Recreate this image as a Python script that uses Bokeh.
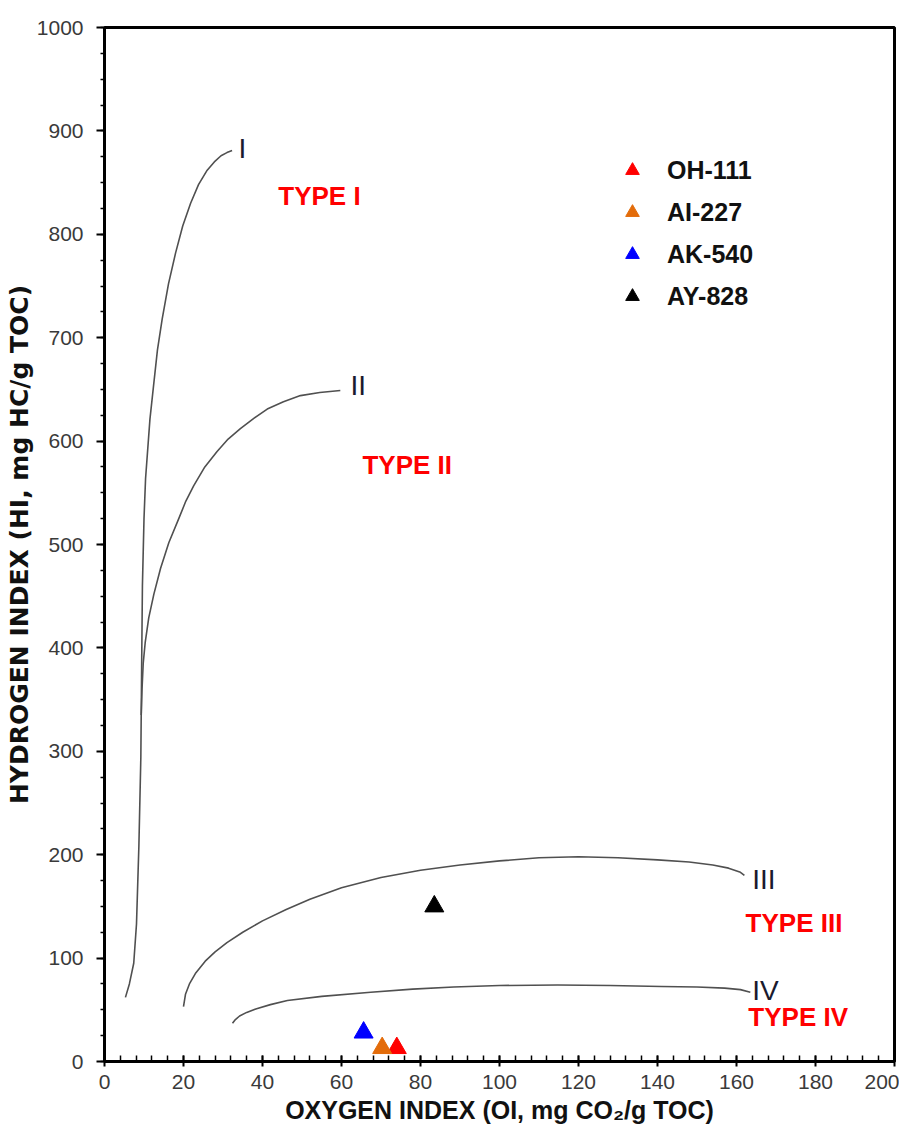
from bokeh.plotting import figure
from bokeh.models import (Range1d, SingleIntervalTicker, Label, Legend, LegendItem)
from bokeh.embed import file_html
from bokeh.resources import INLINE

# ---- data ----
curve_I_x = [5.3, 6.3, 7.4, 8.1, 8.7, 9.2, 9.4, 9.6, 10.0, 10.4, 11.5, 12.4, 13.4, 14.6, 16.2, 18.0,
             19.8, 21.8, 23.8, 26.0, 27.8, 29.5, 31.0, 32.3]
curve_I_y = [62, 75, 95, 133, 208, 294, 380, 460, 525, 564, 621, 653, 688, 718, 752, 782,
             808, 830, 848, 862, 870, 876, 879, 881]

curve_II_x = [9.3, 9.5, 9.8, 10.3, 11.2, 12.5, 14.2, 16.3, 18.8, 20.6, 22.6, 25.4, 28.5, 31.3,
              34.4, 37.8, 41.2, 45.3, 49.6, 54.5, 59.7]
curve_II_y = [335, 360, 385, 405, 429, 452, 477, 502, 525, 542, 557, 575, 590, 602,
              612, 622, 631, 638, 644, 647, 649]

curve_III_x = [20.0, 20.5, 21.5, 23.0, 25.5, 28.0, 31.0, 35.0, 40.0, 46.0, 52.0, 60.0, 70.0,
               80.0, 90.0, 100.0, 110.0, 120.0, 130.0, 140.0, 148.0, 154.0, 158.0, 161.0, 162.0]
curve_III_y = [53, 65, 75, 85, 97, 106, 115, 125, 136, 147, 157, 168, 178,
               185, 190, 194, 197, 198, 197, 195, 193, 190, 187, 183, 180]

curve_IV_x = [32.4, 33.0, 34.2, 36.0, 38.5, 42.0, 46.3, 55.0, 67.4, 78.0, 88.4, 100.0, 114.7,
              128.0, 141.0, 150.0, 157.0, 161.0, 163.5]
curve_IV_y = [37, 40, 44, 47.5, 51, 55, 59, 63, 67, 70, 72, 73.5, 74,
              73.5, 72.5, 72, 71, 69.5, 67]

samples = ["OH-111", "AI-227", "AK-540", "AY-828"]
sample_oi = [74.0, 70.3, 65.6, 83.5]
sample_hi = [13, 13, 28, 150]
sample_colors = ["#ff0000", "#e36c0a", "#0000ff", "#000000"]

curve_names = ["I", "II", "III", "IV"]
type_names = ["TYPE I", "TYPE II", "TYPE III", "TYPE IV"]

FONT = "Liberation Sans"

p = figure(width=899, height=1126, output_backend="svg", toolbar_location=None,
           x_range=Range1d(0, 200), y_range=Range1d(0, 1000),
           min_border_left=104, min_border_right=5, min_border_top=27, min_border_bottom=61)
p.xgrid.visible = False
p.ygrid.visible = False
p.outline_line_color = "black"
p.outline_line_width = 3
p.background_fill_color = "white"

# axes
p.xaxis.ticker = SingleIntervalTicker(interval=20, num_minor_ticks=5)
p.yaxis.ticker = SingleIntervalTicker(interval=100, num_minor_ticks=4)
for ax in (p.xaxis[0], p.yaxis[0]):
    ax.axis_line_width = 3
    ax.axis_line_color = "black"
    ax.major_tick_line_color = "black"
    ax.minor_tick_line_color = "black"
    ax.major_tick_line_width = 2
    ax.minor_tick_line_width = 1.5
    ax.major_label_text_font = FONT
    ax.major_label_text_font_size = "21px"
    ax.major_label_text_color = "#3a3a3a"
    ax.axis_label_text_font_style = "bold"
    ax.axis_label_text_color = "#111111"
p.xaxis.major_tick_in = 6
p.xaxis.major_tick_out = 5
p.xaxis.minor_tick_in = 6
p.xaxis.minor_tick_out = 0
p.yaxis.major_tick_in = 0
p.yaxis.major_tick_out = 8
p.yaxis.minor_tick_in = 0
p.yaxis.minor_tick_out = 4
p.xaxis.major_label_standoff = 8
p.yaxis.major_label_standoff = 13
p.xaxis.axis_label = "OXYGEN INDEX (OI, mg CO\u2082/g TOC)"
p.yaxis.axis_label = "HYDROGEN INDEX (HI, mg HC/g TOC)"
p.xaxis.axis_label_text_font = FONT
p.xaxis.axis_label_text_font_size = "25px"
p.yaxis.axis_label_text_font = "DejaVu Sans"
p.yaxis.axis_label_text_font_size = "25px"
p.xaxis.axis_label_standoff = 4
p.yaxis.axis_label_standoff = 0

# curves
lc = "#505050"
for cx, cy in ((curve_I_x, curve_I_y), (curve_II_x, curve_II_y),
               (curve_III_x, curve_III_y), (curve_IV_x, curve_IV_y)):
    p.line(cx, cy, line_color=lc, line_width=1.6, line_join="round")

# curve labels
curve_label_pos = [(33.9, 883), (62.3, 654), (164.0, 176), (164.0, 69)]
for name, (lx, ly) in zip(curve_names, curve_label_pos):
    p.add_layout(Label(x=lx, y=ly, text=name, text_font=FONT, text_font_size="28px",
                       text_color="#1a1a2e", text_baseline="middle", text_align="left"))

type_label_pos = [(44.0, 837), (65.3, 577), (162.3, 134), (163.0, 43)]
for name, (lx, ly) in zip(type_names, type_label_pos):
    p.add_layout(Label(x=lx, y=ly, text=name, text_font=FONT, text_font_size="26px",
                       text_font_style="bold", text_color="#ff0000",
                       text_baseline="middle", text_align="left"))

# samples
items = []
for name, ox, hy, col in zip(samples, sample_oi, sample_hi, sample_colors):
    r = p.scatter([ox], [hy], marker="triangle", size=19, fill_color=col, line_color=col)
    items.append(LegendItem(label=name, renderers=[r]))

legend = Legend(items=items, location=(511, 748), padding=0, margin=0,
                glyph_width=34, glyph_height=34, label_height=34, spacing=8,
                label_standoff=18, label_text_font=FONT, label_text_font_size="25px",
                label_text_font_style="bold", label_text_color="#111111",
                background_fill_alpha=0, border_line_alpha=0)
p.add_layout(legend, "center")

open("out.html", "w").write(file_html(p, INLINE))
